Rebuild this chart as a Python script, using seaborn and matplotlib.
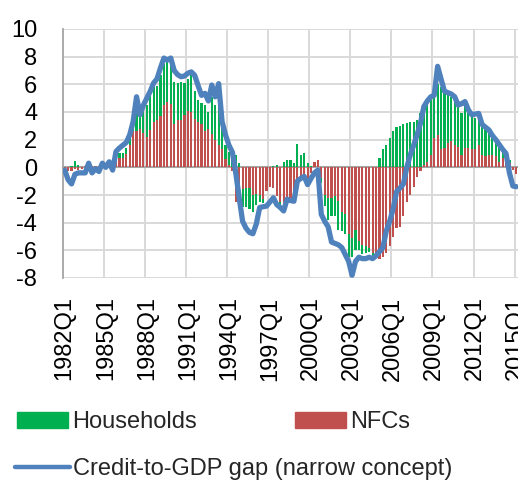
import matplotlib
matplotlib.use("Agg")
import matplotlib.pyplot as plt
from matplotlib.patches import Patch
from matplotlib.lines import Line2D
import numpy as np
import seaborn as sns

# ── data (quarterly, 1982Q1 .. 2015Q1), percentage points ──────────────────
quarters = [f"{y}Q{q}" for y in range(1982, 2016) for q in range(1, 5)][:133]

households = [
    0.0, 0.0, 0.1, 0.45,    0.15, 0.0, 0.0, 0.0,     0.0, 0.0, 0.0, 0.0,
    0.0, 0.0, 0.0, 0.25,    0.3, 0.3, 0.4, 0.6,      0.8, 1.3, 1.3, 1.7,
    2.3, 2.7, 2.5, 2.5,     3.0, 3.0, 3.2, 2.8,      3.1, 2.7, 2.8, 2.3,
    2.25, 2.9, 2.0, 1.6,    1.55, 1.9, 1.2, 2.7,     2.5, 3.1, 1.9, 1.0,
    0.9, 1.0, 0.9, 0.3,     -1.3, -1.4, -1.5, -1.2,  -0.8, -0.5, -0.3, 0.0,
    0.0, 0.1, 0.2, -0.2,    0.4, 0.5, 0.55, 0.3,     1.7, 0.9, 1.0, 0.3,
    0.1, 0.0, 0.0, -0.3,    -0.8, -1.6, -1.3, -1.4,  -2.1, -1.4, -1.4, -1.7,
    -1.4, -1.5, -0.7, -0.7, -0.5, -0.3, -0.2, 0.0,   0.7, 1.3, 1.65, 2.1,
    2.6, 2.9, 3.0, 3.1,     3.2, 3.3, 3.3, 3.4,      3.9, 4.2, 4.1, 4.0,
    3.6, 3.7, 4.5, 4.1,     3.5, 3.2, 3.3, 3.1,      3.0, 3.0, 2.5, 2.5,
    2.3, 2.0, 2.2, 2.0,     1.8, 1.45, 1.1, 1.35,    0.6, 0.25, 0.2, 0.0,
    0.0,
]

nfcs = [
    -0.2, -0.3, -0.3, -0.1, -0.2, -0.1, 0.1, 0.0,    0.1, 0.1, 0.1, 0.2,
    0.2, 0.3, 0.4, 0.8,     0.7, 0.7, 1.0, 1.6,      2.6, 2.6, 2.8, 2.5,
    2.2, 2.7, 3.3, 3.4,     3.7, 4.5, 4.7, 4.6,      3.1, 3.4, 3.4, 3.8,
    4.1, 4.0, 3.5, 3.3,     3.1, 2.6, 2.8, 2.4,      2.0, 1.6, 1.3, 0.6,
    0.2, -0.3, -2.5, -2.2,  -1.6, -1.5, -1.5, -2.0,  -1.9, -2.0, -2.3, -1.7,
    -1.4, -1.5, -2.1, -2.5, -2.6, -2.3, -2.6, -2.4,  -1.5, -0.8, -0.7, -0.9,
    -0.4, 0.4, 0.5, -0.8,   -2.0, -2.2, -2.2, -2.1,  -2.45, -3.2, -3.4, -4.8,
    -5.1, -4.5, -5.3, -5.6, -5.7, -5.8, -6.2, -6.5,  -6.6, -6.5, -6.2, -5.7,
    -5.0, -4.4, -4.3, -3.5, -2.5, -2.0, -1.4, -0.7,  -0.3, 0.2, 0.4, 0.9,
    2.1, 2.35, 1.3, 1.4,    1.75, 1.9, 1.6, 1.5,     0.9, 1.4, 1.4, 1.3,
    1.3, 1.6, 0.9, 0.8,     0.9, 0.9, 0.8, 0.4,      0.7, 0.55, 0.3, -0.2,
    -0.5,
]

credit_gap = [
    -0.2, -0.9, -1.2, -0.5, -0.4, -0.4, -0.4, 0.3,   -0.4, -0.1, -0.3, 0.3,
    0.0, 0.4, -0.2, 1.15,   1.4, 1.6, 1.8, 2.35,     3.3, 5.1, 3.8, 4.5,
    5.0, 5.5, 6.1, 6.4,     7.2, 7.9, 7.75, 7.9,     7.0, 6.7, 6.55, 6.6,
    6.8, 6.9, 6.65, 5.9,    5.2, 5.35, 4.8, 5.95,    5.1, 6.05, 3.3, 2.35,
    1.6, 1.1, -0.4, -2.2,   -3.9, -4.4, -4.7, -4.8,  -4.1, -2.9, -2.85, -2.8,
    -2.5, -2.2, -2.7, -2.9, -3.15, -2.3, -2.4, -2.45, -1.0, -0.8, -0.65, -1.25,
    -0.8, -0.4, -0.2, -3.4, -3.9, -4.3, -5.4, -5.5,  -5.6, -5.8, -6.3, -6.8,
    -7.8, -6.8, -6.5, -6.6, -6.6, -6.5, -6.6, -6.4,  -6.1, -5.8, -4.6, -3.9,
    -3.0, -1.75, -1.5, -1.2, 0.0, 0.9, 1.6, 2.35,    3.2, 4.4, 4.8, 5.1,
    5.2, 7.3, 6.4, 5.5,     5.4, 5.3, 5.1, 4.5,      4.6, 4.75, 4.15, 3.8,
    3.85, 3.9, 3.1, 2.9,    2.7, 2.3, 2.0, 1.65,     1.3, 1.0, -0.4, -1.35,
    -1.4,
]

y_ticks = [-8, -6, -4, -2, 0, 2, 4, 6, 8, 10]

GREEN = "#00b050"
RED   = "#c0504d"
BLUE  = "#4f81bd"
GRID  = "#d9d9d9"
AXIS  = "#a6a6a6"

sns.set_theme(style="white")
plt.rcParams["font.family"] = ["Liberation Sans", "DejaVu Sans"]
FS = 17

W, H = 518, 480
fig = plt.figure(figsize=(W / 100, H / 100), dpi=100)
ax = fig.add_axes([63 / W, (H - 278) / H, (W - 63) / W, 249 / H])

# spine placement first: moving a spine rebuilds the ticks
for s in ["top", "right"]:
    ax.spines[s].set_visible(False)
ax.spines["left"].set_color(AXIS)
ax.spines["left"].set_linewidth(1.3)
ax.spines["bottom"].set_position(("data", 0))
ax.spines["bottom"].set_color(AXIS)
ax.spines["bottom"].set_linewidth(1.5)
ax.spines["bottom"].set_zorder(1)

pos = np.arange(len(quarters))
nfc = np.array(nfcs)
hh = np.array(households)
# Excel-style stacking: same-sign values stack on top of the NFC bar
hh_bottom = np.where(np.sign(hh) == np.sign(nfc), nfc, 0.0)

ax.bar(pos, nfc, width=0.62, color=RED, linewidth=0, zorder=2)
ax.bar(pos, hh, bottom=hh_bottom, width=0.62, color=GREEN, linewidth=0, zorder=2)
sns.lineplot(x=pos, y=credit_gap, ax=ax, color=BLUE, linewidth=3.8, zorder=3,
             solid_joinstyle="round", solid_capstyle="round")

ax.set_xlim(-0.5, len(quarters) - 0.5)
ax.set_ylim(-8, 10)
ax.set_yticks(y_ticks)
ax.set_yticklabels([str(v) for v in y_ticks], fontsize=FS)

major = pos[::12]
ax.set_xticks(major)
ax.set_xticklabels([quarters[i] for i in major], fontsize=FS)
ax.set_xticks(np.arange(-0.5, len(quarters), 12), minor=True)
ax.set_xlabel("")
ax.set_ylabel("")

ax.grid(False)
ax.grid(True, axis="y", which="major", color=GRID, linewidth=1.4, zorder=0)
ax.grid(True, axis="x", which="minor", color=GRID, linewidth=1.4, zorder=0)

ax.tick_params(axis="y", length=0, pad=18.5, colors="black", labelsize=FS)
ax.tick_params(axis="x", which="major", length=0, pad=93, colors="black",
               labelsize=FS, labelrotation=90)
ax.tick_params(axis="x", which="minor", length=3, width=1.3, color=AXIS,
               direction="out")

# legend, laid out like the Excel original
common = dict(frameon=False, fontsize=FS, borderpad=0, borderaxespad=0,
              loc="center left")
fig.legend(handles=[Patch(color=GREEN, label="Households")],
           bbox_to_anchor=(17 / W, 1 - 422.5 / H),
           handlelength=2.15, handleheight=0.65, handletextpad=0.2, **common)
fig.legend(handles=[Patch(color=RED, label="NFCs")],
           bbox_to_anchor=(295 / W, 1 - 422.5 / H),
           handlelength=2.15, handleheight=0.65, handletextpad=0.2, **common)
fig.legend(handles=[Line2D([], [], color=BLUE, linewidth=3.2,
                           label="Credit-to-GDP gap (narrow concept)")],
           bbox_to_anchor=(15 / W, 1 - 469 / H),
           handlelength=2.35, handletextpad=0.12, **common)

fig.savefig("out.png", dpi=100)
